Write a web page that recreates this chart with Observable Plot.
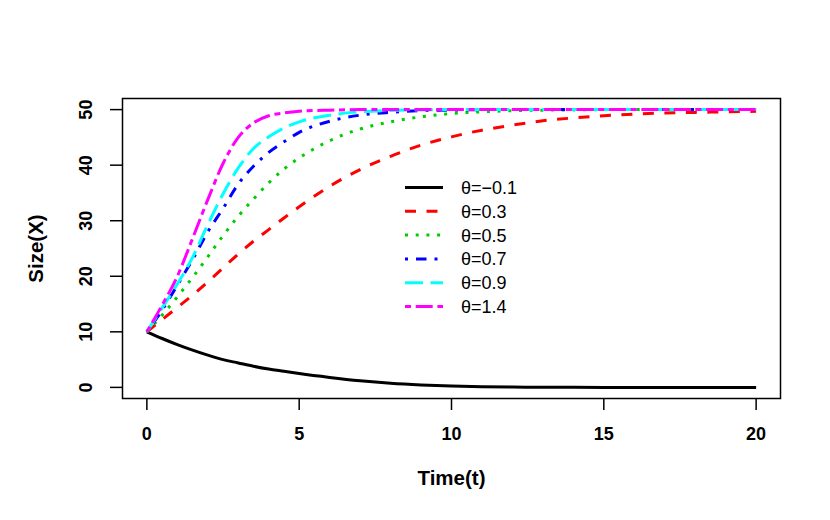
<!DOCTYPE html>
<html><head><meta charset="utf-8">
<script src="https://cdn.jsdelivr.net/npm/d3@7"></script>
<script src="https://cdn.jsdelivr.net/npm/@observablehq/plot@0.6"></script>
<style>html,body{margin:0;padding:0;background:#fff} svg{display:block}</style>
</head><body><div id="chart"></div>
<script>
// ---- data ----
const times = [0,0.5,1,1.5,2,2.5,3,3.5,4,4.5,5,6,7,8,9,10,11,12,13,14,15,16,17,18,19,20];
const seriesLabels = ["θ=−0.1","θ=0.3","θ=0.5","θ=0.7","θ=0.9","θ=1.4"];
const sizeThetaNeg01 = [10,8.8,7.7,6.7,5.8,5.0,4.4,3.8,3.3,2.9,2.5,1.8,1.2,0.75,0.45,0.25,0.12,0.06,0.03,0.01,0,0,0,0,0,0];
const sizeTheta03   = [10,12.2,14.4,16.6,19.0,21.5,24.0,26.3,28.4,30.5,32.5,36.2,39.2,41.6,43.6,45.1,46.3,47.2,48.0,48.5,48.9,49.2,49.4,49.5,49.6,49.7];
const sizeTheta05   = [10,13.0,16.3,19.8,23.5,27.3,30.8,33.9,36.8,39.3,41.3,44.4,46.5,47.8,48.7,49.3,49.6,49.8,49.9,49.95,50,50,50,50,50,50];
const sizeTheta07   = [10,13.9,18.4,23.0,28.0,32.2,36.6,39.8,42.3,44.2,45.9,47.9,49.0,49.5,49.8,49.9,50,50,50,50,50,50,50,50,50,50];
const sizeTheta09   = [10,14.3,18.6,23.4,29.3,34.8,39.5,43.0,45.1,46.7,47.8,49.0,49.6,49.85,49.95,50,50,50,50,50,50,50,50,50,50,50];
const sizeTheta14   = [10,14.8,20.0,26.8,33.8,40.3,45.0,47.6,48.9,49.4,49.7,49.9,50,50,50,50,50,50,50,50,50,50,50,50,50,50];
const xTicks = [0,5,10,15,20];
const yTicks = [0,10,20,30,40,50];
const xTitle = "Time(t)";
const yTitle = "Size(X)";

// ---- styles ----
const allSeries = [sizeThetaNeg01, sizeTheta03, sizeTheta05, sizeTheta07, sizeTheta09, sizeTheta14];
const colors = ["#000000","#FF0000","#00CD00","#0000FF","#00FFFF","#FF00FF"];
const dashes = [null,"11 10.5","3 7.7","3 8 10.5 8","18 7.5","6 4.7 17 4.7"];
const lw = 3;
const font = "'Liberation Sans', Arial, Helvetica, sans-serif";

const lineMarks = allSeries.map((vals, i) =>
  Plot.line(times.map((t, j) => ({t, v: vals[j]})), {
    x: "t", y: "v", stroke: colors[i], strokeWidth: lw,
    strokeDasharray: dashes[i] || undefined, strokeLinecap: "butt", strokeLinejoin: "round",
    curve: "monotone-x"
  })
);

const chart = Plot.plot({
  width: 830, height: 520,
  marginLeft: 122, marginRight: 50, marginTop: 98, marginBottom: 122,
  style: {fontFamily: font, background: "#fff", color: "#000"},
  x: {domain: [-0.8, 20.8], axis: null},
  y: {domain: [-2, 52], axis: null},
  marks: [
    ...lineMarks,
    Plot.frame({stroke: "#000", strokeWidth: 1.5}),
    Plot.axisX({ticks: xTicks, tickSize: 12, tickFormat: () => "", label: null, strokeWidth: 1.5}),
    Plot.axisY({ticks: yTicks, tickSize: 12, tickFormat: () => "", label: null, strokeWidth: 1.5}),
    Plot.text(xTicks, {x: d => d, text: d => String(d), frameAnchor: "bottom", dy: 36, textAnchor: "middle", lineAnchor: "middle", fontSize: 18, fontWeight: "bold", fill: "#000"}),
    Plot.text(yTicks, {y: d => d, text: d => String(d), frameAnchor: "left", dx: -36, rotate: -90, textAnchor: "middle", lineAnchor: "middle", fontSize: 18, fontWeight: "bold", fill: "#000"}),
    Plot.text([xTitle], {text: d => d, frameAnchor: "bottom", dy: 80, textAnchor: "middle", lineAnchor: "middle", fontSize: 20.5, fontWeight: "bold", fill: "#000"}),
    Plot.text([yTitle], {text: d => d, frameAnchor: "left", dx: -86, rotate: -90, textAnchor: "middle", lineAnchor: "middle", fontSize: 20.5, fontWeight: "bold", fill: "#000"})
  ]
});
document.getElementById("chart").appendChild(chart);

// ---- legend (no box) ----
const svg = d3.select(chart);
const leg = svg.append("g").attr("text-anchor", "start");
const legX1 = 405, legX2 = 443, legTextX = 461, legY0 = 187.5, legStep = 23.8;
seriesLabels.forEach((lab, i) => {
  const y = legY0 + i * legStep;
  leg.append("line").attr("x1", legX1).attr("x2", legX2).attr("y1", y).attr("y2", y)
    .attr("stroke", colors[i]).attr("stroke-width", lw)
    .attr("stroke-dasharray", dashes[i] || null).attr("stroke-linecap", "butt");
  leg.append("text").attr("x", legTextX).attr("y", y).attr("dy", "0.36em")
    .attr("text-anchor", "start")
    .attr("font-size", 18).attr("font-family", font).attr("fill", "#000").text(lab);
});
</script>
</body></html>
